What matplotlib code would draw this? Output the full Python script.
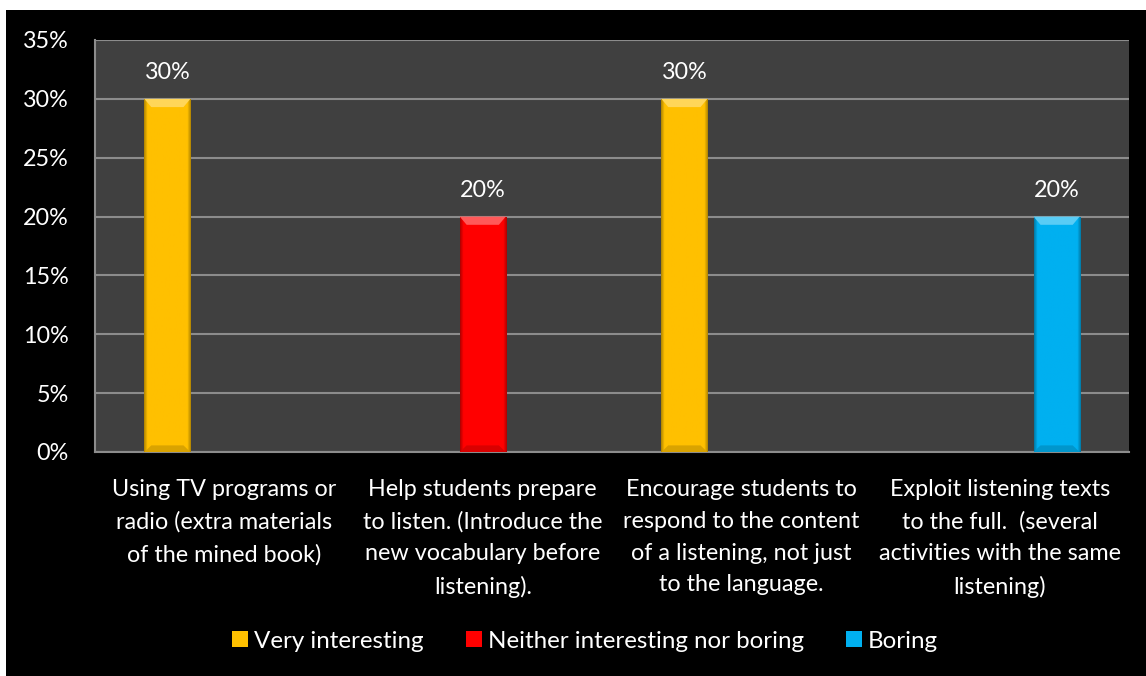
import matplotlib
matplotlib.use("Agg")
import matplotlib.pyplot as plt
import numpy as np
from matplotlib.patches import Rectangle, Polygon
from matplotlib.colors import to_rgb
from matplotlib.ticker import PercentFormatter

categories = [
    "Using TV programs or\nradio (extra materials\nof the mined book)",
    "Help students prepare\nto listen. (Introduce the\nnew vocabulary before\nlistening).",
    "Encourage students to\nrespond to the content\nof a listening, not just\nto the language.",
    "Exploit listening texts\nto the full.  (several\nactivities with the same\nlistening)",
]
series_names = ["Very interesting", "Neither interesting nor boring", "Boring"]
very_interesting = [0.30, 0, 0.30, 0]
neither = [0, 0.20, 0, 0]
boring = [0, 0, 0, 0.20]
colors = ["#FFC000", "#FF0000", "#00B0F0"]

plt.rcParams['font.family'] = ['Lato', 'DejaVu Sans']
FS = 16.8

fig = plt.figure(figsize=(11.46, 6.76), dpi=100)
fig.patch.set_facecolor("white")
# black panel behind the chart
fig.patches.append(Rectangle((6 / 1146, 0), 1, 1 - 10 / 676, transform=fig.transFigure,
                             facecolor="black", edgecolor="none", zorder=-10))

ax = fig.add_axes([95 / 1146, 1 - 452 / 676, (1129 - 95) / 1146, (452 - 40) / 676])
ax.set_facecolor("#404040")

x = np.arange(len(categories))
width = 0.178
offsets = [-0.22, 0, 0.22]
all_values = [very_interesting, neither, boring]


def shade(c, f):
    r = np.array(to_rgb(c))
    if f < 1:
        return r * f
    return r + (1 - r) * (f - 1)


for vals, off, col, name in zip(all_values, offsets, colors, series_names):
    bars = ax.bar(x + off, vals, width, color=col, edgecolor="none", label=name, zorder=3)
    for b, v in zip(bars, vals):
        if v <= 0:
            continue
        x0, w = b.get_x(), b.get_width()
        # horizontal bevel: darker edges, flat middle
        prof = np.ones(60)
        prof[:5] = np.linspace(0.7, 1.0, 5)
        prof[-5:] = np.linspace(1.0, 0.7, 5)
        img = np.array([[shade(col, p) for p in prof]])
        im = ax.imshow(img, extent=(x0, x0 + w, 0, v),
                       aspect="auto", zorder=4, interpolation="bilinear")
        im.set_clip_path(b)
        # lighter bevel on top
        h = 0.007
        ax.add_patch(Polygon([(x0, v), (x0 + w, v), (x0 + w * 0.85, v - h), (x0 + w * 0.15, v - h)],
                             closed=True, facecolor=shade(col, 1.35), edgecolor="none", zorder=5))
        # darker bevel at the base
        ax.add_patch(Polygon([(x0, 0), (x0 + w, 0), (x0 + w * 0.85, h * 0.8), (x0 + w * 0.15, h * 0.8)],
                             closed=True, facecolor=shade(col, 0.85), edgecolor="none", zorder=5))
        ax.text(x0 + w / 2, v + 0.022, f"{v:.0%}",
                ha="center", va="center", color="white", fontsize=FS, zorder=6)

ax.set_xlim(-0.5, len(categories) - 0.5)
ax.set_ylim(0, 0.35)
ax.set_yticks(np.arange(0, 0.351, 0.05))
ax.yaxis.set_major_formatter(PercentFormatter(1.0, decimals=0))
ax.set_xticks(x)
ax.set_xticklabels(categories, linespacing=1.63)
ax.tick_params(axis="both", length=0, colors="white", labelsize=FS)
ax.tick_params(axis="y", pad=19)
ax.tick_params(axis="x", pad=19.5)
ax.yaxis.grid(True, color="#8C8C8C", linewidth=1.5, zorder=1)
ax.set_axisbelow(True)
for s in ["top", "right"]:
    ax.spines[s].set_visible(False)
for s in ["left", "bottom"]:
    ax.spines[s].set_color("#8C8C8C")
    ax.spines[s].set_linewidth(1.5)

handles = [Rectangle((0, 0), 1, 1, facecolor=c, edgecolor="none") for c in colors]
leg = fig.legend(handles, series_names, loc="center", bbox_to_anchor=(585 / 1146, 1 - 641 / 676),
                 ncol=3, frameon=False, fontsize=17.4, handlelength=0.66, handleheight=0.66,
                 handletextpad=0.25, columnspacing=1.75)
for t in leg.get_texts():
    t.set_color("white")

fig.savefig("out.png", dpi=100, facecolor=fig.get_facecolor())
